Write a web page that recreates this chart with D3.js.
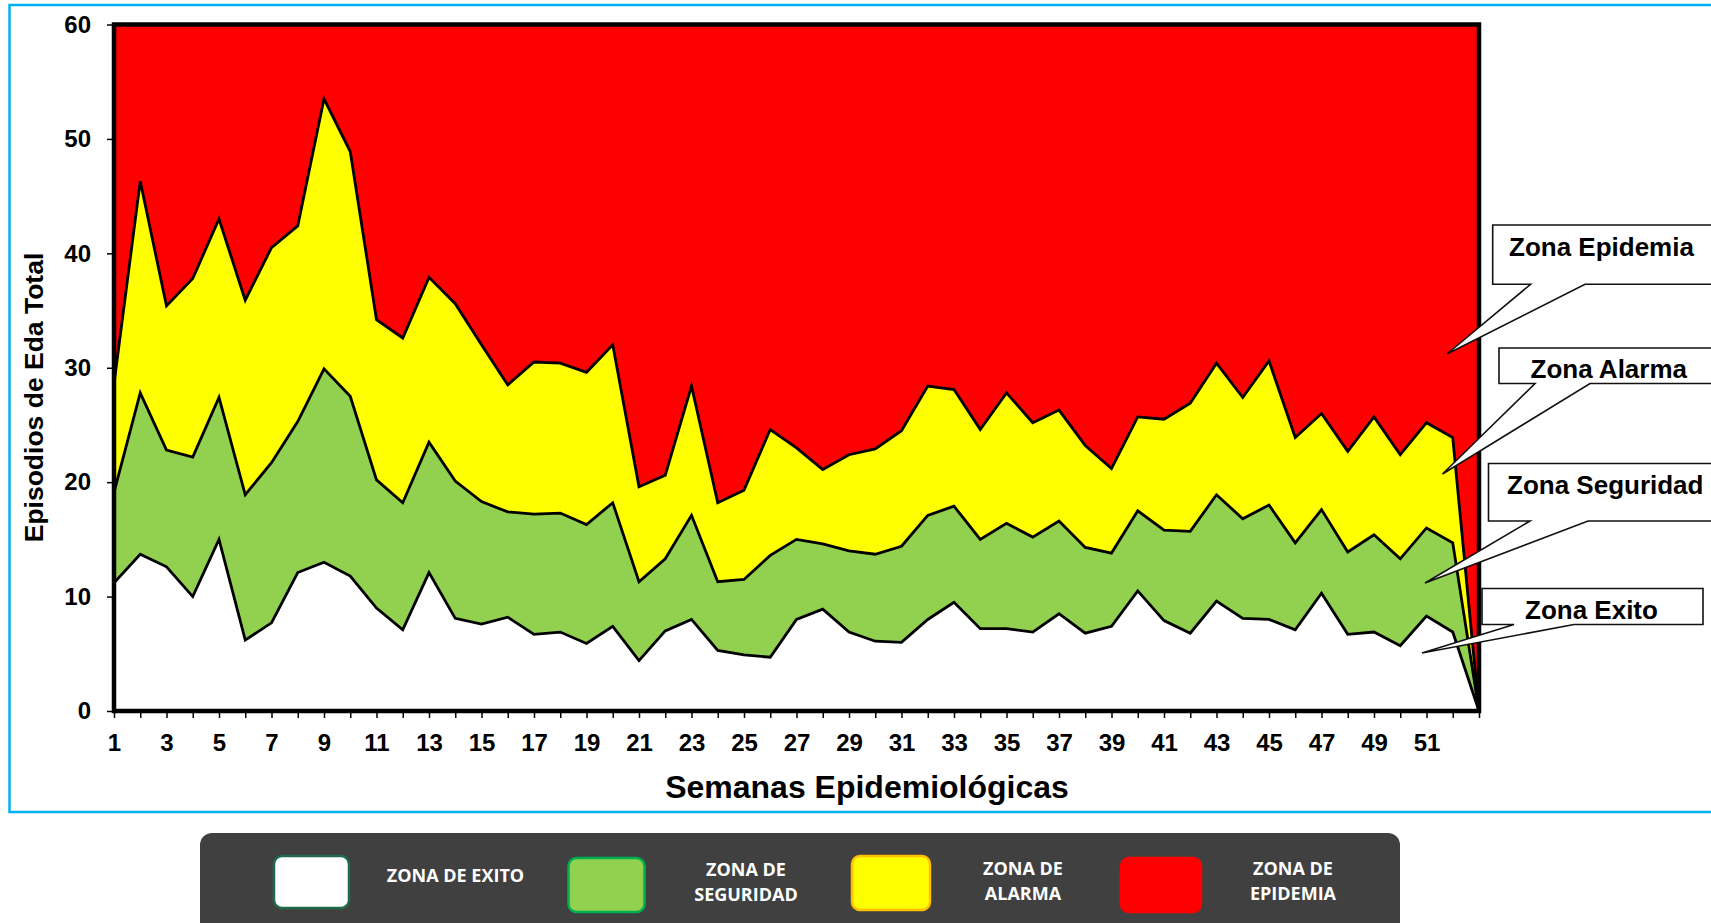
<!DOCTYPE html>
<html>
<head>
<meta charset="utf-8">
<script src="https://cdn.jsdelivr.net/npm/d3@7/dist/d3.min.js"></script>
<style>
  html, body { margin: 0; padding: 0; background: #ffffff; }
  svg { display: block; }
</style>
</head>
<body>
<svg id="chart" width="1711" height="923"></svg>
<script>
// ---- data ----
const weeks = [1,2,3,4,5,6,7,8,9,10,11,12,13,14,15,16,17,18,19,20,21,22,23,24,25,26,27,28,29,30,31,32,33,34,35,36,37,38,39,40,41,42,43,44,45,46,47,48,49,50,51,52,53];
const weekLabels = [1,3,5,7,9,11,13,15,17,19,21,23,25,27,29,31,33,35,37,39,41,43,45,47,49,51];
// upper limit of each zone (cumulative levels)
const zonaExito = [11.2,13.7,12.6,10.0,15.0,6.2,7.7,12.1,13.0,11.8,9.0,7.1,12.1,8.1,7.6,8.2,6.7,6.9,5.9,7.4,4.4,7.0,8.0,5.3,4.9,4.7,8.0,8.9,6.9,6.1,6.0,8.0,9.5,7.2,7.2,6.9,8.5,6.8,7.4,10.5,7.9,6.8,9.6,8.1,8.0,7.1,10.3,6.7,6.9,5.7,8.3,6.9,0];
const zonaSeguridad = [19.1,27.8,22.8,22.2,27.4,18.9,21.7,25.3,29.9,27.5,20.2,18.2,23.5,20.1,18.3,17.4,17.2,17.3,16.3,18.2,11.3,13.3,17.1,11.3,11.5,13.6,15.0,14.6,14.0,13.7,14.4,17.1,17.9,15.0,16.4,15.2,16.6,14.3,13.8,17.5,15.8,15.7,18.9,16.8,18.0,14.7,17.6,13.9,15.4,13.3,16.0,14.7,0];
const zonaAlarma = [28.6,46.3,35.4,37.8,43.0,35.9,40.5,42.4,53.5,48.9,34.2,32.6,37.9,35.6,32.0,28.5,30.5,30.4,29.6,32.0,19.6,20.6,28.4,18.2,19.3,24.6,23.0,21.1,22.4,22.9,24.5,28.4,28.1,24.6,27.8,25.2,26.3,23.2,21.2,25.7,25.5,26.9,30.4,27.4,30.6,23.9,26.0,22.7,25.7,22.4,25.2,23.9,0];
const yTicks = [0,10,20,30,40,50,60];
const yMax = 60;

const zoneNames = ["ZONA DE EXITO", "ZONA DE SEGURIDAD", "ZONA DE ALARMA", "ZONA DE EPIDEMIA"];
const calloutLabels = ["Zona Epidemia", "Zona Alarma", "Zona Seguridad", "Zona Exito"];

// ---- drawing ----
const svg = d3.select("#chart");
const FONT = "'Liberation Sans', Arial, Helvetica, sans-serif";

// outer blue frame
svg.append("rect").attr("x", 9.5).attr("y", 5).attr("width", 1730).attr("height", 807)
  .attr("fill", "none").attr("stroke", "#00B0F0").attr("stroke-width", 2.5);

const x = d3.scalePoint().domain(weeks).range([114, 1479]);
const y = d3.scaleLinear().domain([0, yMax]).range([711, 24.5]);

const rows = weeks.map((w, i) => ({w, e: zonaExito[i], s: zonaSeguridad[i], a: zonaAlarma[i]}));

const g = svg.append("g");
const areaGen = (lo, hi) => d3.area().x(d => x(d.w)).y0(lo).y1(hi);

g.append("path").datum(rows).attr("fill", "#FF0000")
  .attr("d", areaGen(d => y(d.a), () => y(yMax)));
g.append("path").datum(rows).attr("fill", "#FFFF00")
  .attr("d", areaGen(d => y(d.s), d => y(d.a)));
g.append("path").datum(rows).attr("fill", "#92D050")
  .attr("d", areaGen(d => y(d.e), d => y(d.s)));
g.append("path").datum(rows).attr("fill", "#FFFFFF")
  .attr("d", areaGen(() => y(0), d => y(d.e)));

const lineGen = acc => d3.line().x(d => x(d.w)).y(d => y(acc(d)));
[d => d.e, d => d.s, d => d.a].forEach(acc => {
  g.append("path").datum(rows).attr("fill", "none").attr("stroke", "#000")
    .attr("stroke-width", 2.8).attr("stroke-linejoin", "miter").attr("d", lineGen(acc));
});

// axes
const yAxis = d3.axisLeft(y).tickValues(yTicks).tickSize(7).tickPadding(16).tickFormat(d3.format("d"));
const yg = svg.append("g").attr("transform", "translate(114,0)").call(yAxis);
yg.select(".domain").remove();
yg.selectAll("line").attr("stroke", "#000").attr("stroke-width", 1.5);
yg.selectAll("text").attr("font-family", FONT).attr("font-weight", "bold")
  .attr("font-size", 24).attr("fill", "#000");

const xAxis = d3.axisBottom(x).tickSize(7).tickPadding(16)
  .tickFormat(d => weekLabels.includes(d) ? String(d) : "");
const xg = svg.append("g").attr("transform", "translate(0,711)").call(xAxis);
xg.select(".domain").remove();
xg.selectAll("line").attr("stroke", "#000").attr("stroke-width", 1.5);
xg.selectAll("text").attr("font-family", FONT).attr("font-weight", "bold")
  .attr("font-size", 24).attr("fill", "#000");

// plot frame
svg.append("rect").attr("x", 114).attr("y", y(yMax)).attr("width", 1479 - 114)
  .attr("height", y(0) - y(yMax)).attr("fill", "none").attr("stroke", "#000").attr("stroke-width", 4.5);

// axis titles
svg.append("text").attr("x", 867).attr("y", 798).attr("text-anchor", "middle")
  .attr("font-family", FONT).attr("font-weight", "bold").attr("font-size", 32)
  .text("Semanas Epidemiológicas");
svg.append("text").attr("transform", "translate(43,397.5) rotate(-90)").attr("text-anchor", "middle")
  .attr("font-family", FONT).attr("font-weight", "bold").attr("font-size", 26.5)
  .text("Episodios de Eda Total");

// callouts
const callouts = [
  {label: calloutLabels[0], l: 1492.7, t: 225, r: 1730, b: 284.3, b1: 1530.6, b2: 1585, tx: 1447, ty: 354, textX: 1509, base: 256},
  {label: calloutLabels[1], l: 1499, t: 348, r: 1730, b: 383.5, b1: 1535, b2: 1590, tx: 1442.5, ty: 474, textX: 1530.5, base: 378},
  {label: calloutLabels[2], l: 1488.5, t: 463.5, r: 1730, b: 521, b1: 1530, b2: 1588, tx: 1425, ty: 583, textX: 1507, base: 493.5},
  {label: calloutLabels[3], l: 1482, t: 588.5, r: 1703, b: 624.5, b1: 1514, b2: 1574, tx: 1422, ty: 653, textX: 1525, base: 619}
];
callouts.forEach(c => {
  const p = d3.path();
  p.moveTo(c.l, c.t); p.lineTo(c.r, c.t); p.lineTo(c.r, c.b); p.lineTo(c.b2, c.b);
  p.lineTo(c.tx, c.ty); p.lineTo(c.b1, c.b); p.lineTo(c.l, c.b); p.closePath();
  svg.append("path").attr("d", p.toString()).attr("fill", "#fff").attr("stroke", "#111")
    .attr("stroke-width", 1.6).attr("stroke-linejoin", "miter");
  svg.append("text").attr("x", c.textX).attr("y", c.base).attr("font-family", FONT)
    .attr("font-weight", "bold").attr("font-size", 26).attr("fill", "#000").text(c.label);
});

// legend
svg.append("rect").attr("x", 200).attr("y", 833).attr("width", 1200).attr("height", 120)
  .attr("rx", 12).attr("fill", "#404040");
const legendItems = [
  {fill: "#FFFFFF", stroke: "#1E6B4C", sx: 274, sy: 856, sw: 75, sh: 52, lines: ["ZONA DE EXITO"], cx: 455.5, cy: [876]},
  {fill: "#92D050", stroke: "#00B050", sx: 568.5, sy: 858, sw: 76, sh: 54, lines: ["ZONA DE", "SEGURIDAD"], cx: 746, cy: [870, 895]},
  {fill: "#FFFF00", stroke: "#FFC000", sx: 852, sy: 856, sw: 78, sh: 54, lines: ["ZONA DE", "ALARMA"], cx: 1023, cy: [869, 894]},
  {fill: "#FF0000", stroke: "#FF0000", sx: 1121, sy: 858, sw: 80, sh: 54, lines: ["ZONA DE", "EPIDEMIA"], cx: 1293, cy: [869, 894]}
];
legendItems.forEach((it, i) => {
  svg.append("rect").attr("x", it.sx).attr("y", it.sy).attr("width", it.sw).attr("height", it.sh)
    .attr("rx", 8).attr("fill", it.fill).attr("stroke", it.stroke).attr("stroke-width", 2.5);
  it.lines.forEach((ln, j) => {
    svg.append("text").attr("x", it.cx).attr("y", it.cy[j]).attr("dy", "0.36em")
      .attr("text-anchor", "middle").attr("font-family", "'Open Sans', sans-serif")
      .attr("font-weight", "bold").attr("font-size", 18).attr("fill", "#fff").text(ln);
  });
});
</script>
</body>
</html>
